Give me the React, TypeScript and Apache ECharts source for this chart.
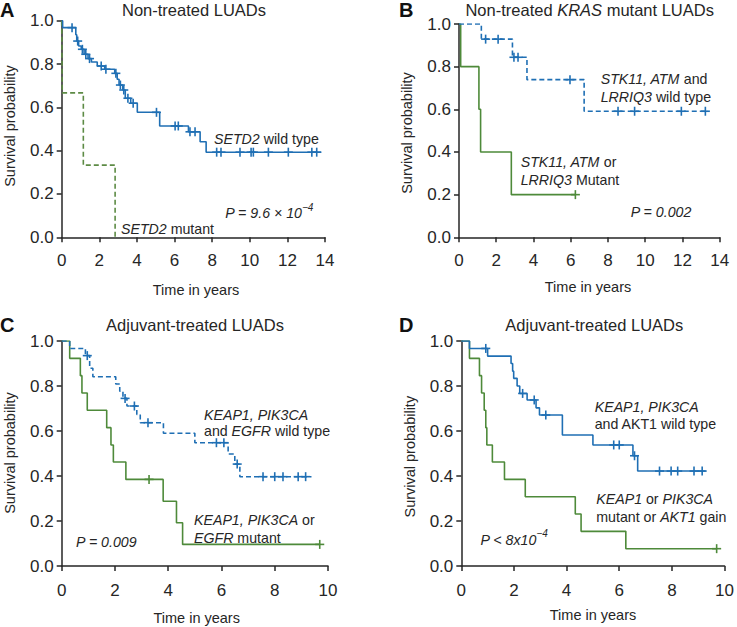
import React, { useEffect, useRef } from 'react';
import * as echarts from 'echarts';

const FONT = '"Liberation Sans", Arial, Helvetica, sans-serif';
const BLUE = '#1f6fb4';
const GREEN = '#4e8a3a';
const OLIVE = '#5d8b45';
const INK = '#262626';

// ---------- Panel A: Non-treated LUADs ----------
const aWildTime = [0, 0.05, 0.75, 0.8, 0.9, 1.04, 1.19, 1.4, 1.58, 1.89, 2.29, 2.82, 2.95, 3.05, 3.25, 3.38, 3.67, 4.02, 5.21, 6.74, 7.36, 7.68, 13.8];
const aWildSurv = [1, 0.968, 0.935, 0.906, 0.883, 0.868, 0.845, 0.825, 0.809, 0.791, 0.776, 0.757, 0.73, 0.703, 0.68, 0.642, 0.619, 0.577, 0.514, 0.487, 0.441, 0.393, 0.393];
const aWildCensor = [0.55, 0.85, 1.1, 1.28, 1.48, 2.1, 2.35, 2.88, 3.12, 3.3, 3.52, 3.8, 5.04, 6.03, 6.2, 6.82, 7.09, 8.24, 8.47, 9.48, 10.07, 10.19, 10.99, 12.05, 13.3, 13.56];
const aMutTime = [0, 0.03, 1.15, 2.84];
const aMutSurv = [1, 0.667, 0.333, 0];
const aMutCensor: number[] = [];

// ---------- Panel B: Non-treated KRAS mutant LUADs ----------
const bWildTime = [0, 1.2, 2.87, 3.65, 6.72, 13.37];
const bWildSurv = [1, 0.929, 0.844, 0.739, 0.591, 0.591];
const bWildCensor = [1.43, 2.1, 2.95, 3.17, 5.96, 8.54, 9.43, 11.94, 13.23];
const bMutTime = [0, 0.09, 1.07, 1.16, 2.81, 6.25];
const bMutSurv = [1, 0.8, 0.6, 0.4, 0.2, 0.2];
const bMutCensor = [6.25];

// ---------- Panel C: Adjuvant-treated LUADs ----------
const cWildTime = [0, 0.3, 0.89, 1.05, 1.17, 2.03, 2.18, 2.3, 2.45, 2.82, 2.95, 3.82, 5.0, 6.25, 6.5, 6.69, 9.38];
const cWildSurv = [1, 0.967, 0.935, 0.879, 0.841, 0.809, 0.777, 0.745, 0.711, 0.674, 0.637, 0.59, 0.548, 0.498, 0.453, 0.397, 0.397];
const cWildCensor = [0.96, 2.38, 2.73, 3.24, 5.81, 6.09, 6.59, 7.56, 8.0, 8.31, 8.88, 9.16];
const cMutTime = [0, 0.3, 0.7, 0.76, 0.96, 1.69, 1.85, 1.94, 2.41, 3.81, 4.31, 4.54, 9.69];
const cMutSurv = [1, 0.923, 0.846, 0.769, 0.692, 0.615, 0.538, 0.462, 0.385, 0.288, 0.192, 0.096, 0.096];
const cMutCensor = [3.28, 9.69];

// ---------- Panel D: Adjuvant-treated LUADs ----------
const dWildTime = [0, 0.31, 1.0, 1.89, 1.95, 1.99, 2.12, 2.22, 2.5, 2.84, 2.97, 3.84, 5.0, 6.52, 6.7, 9.28];
const dWildSurv = [1, 0.967, 0.933, 0.9, 0.866, 0.834, 0.8, 0.767, 0.738, 0.703, 0.671, 0.582, 0.538, 0.49, 0.422, 0.422];
const dWildCensor = [0.93, 2.33, 2.77, 3.21, 5.79, 6.0, 6.58, 7.53, 7.97, 8.22, 8.84, 9.15];
const dMutTime = [0, 0.31, 0.69, 0.77, 0.87, 0.93, 0.97, 1.18, 1.64, 2.43, 4.33, 4.55, 6.25, 9.7];
const dMutSurv = [1, 0.923, 0.846, 0.769, 0.692, 0.615, 0.538, 0.462, 0.385, 0.308, 0.231, 0.154, 0.077, 0.077];
const dMutCensor = [9.7];

const xMaxA = 14;
const xMaxB = 14;
const xMaxC = 10;
const xMaxD = 10;
const yTicks = [0, 0.2, 0.4, 0.6, 0.8, 1.0];

function survAt(times: number[], survs: number[], t: number) {
  let s = survs[0];
  for (let i = 0; i < times.length; i++) if (times[i] <= t + 1e-9) s = survs[i];
  return s;
}

type Curve = { time: number[]; surv: number[]; censor: number[]; color: string; dashed: boolean };

const panels: { grid: any; xMax: number; curves: Curve[]; xLabelMargin: number }[] = [
  {
    grid: { left: 61.7, top: 20.7, width: 263.3, height: 216.6 },
    xMax: xMaxA,
    xLabelMargin: 15,
    curves: [
      { time: aMutTime, surv: aMutSurv, censor: aMutCensor, color: OLIVE, dashed: true },
      { time: aWildTime, surv: aWildSurv, censor: aWildCensor, color: BLUE, dashed: false },
    ],
  },
  {
    grid: { left: 459, top: 24, width: 260.7, height: 213.3 },
    xMax: xMaxB,
    xLabelMargin: 15,
    curves: [
      { time: bMutTime, surv: bMutSurv, censor: bMutCensor, color: GREEN, dashed: false },
      { time: bWildTime, surv: bWildSurv, censor: bWildCensor, color: BLUE, dashed: true },
    ],
  },
  {
    grid: { left: 61.7, top: 341, width: 266.3, height: 225 },
    xMax: xMaxC,
    xLabelMargin: 16,
    curves: [
      { time: cMutTime, surv: cMutSurv, censor: cMutCensor, color: GREEN, dashed: false },
      { time: cWildTime, surv: cWildSurv, censor: cWildCensor, color: BLUE, dashed: true },
    ],
  },
  {
    grid: { left: 461.3, top: 341, width: 267.7, height: 225 },
    xMax: xMaxD,
    xLabelMargin: 16,
    curves: [
      { time: dMutTime, surv: dMutSurv, censor: dMutCensor, color: GREEN, dashed: false },
      { time: dWildTime, surv: dWildSurv, censor: dWildCensor, color: BLUE, dashed: false },
    ],
  },
];

const ANN = 14.2;
const richStyles = (size: number) => ({
  i: { fontStyle: 'italic', fontSize: size, fontFamily: FONT, fill: INK },
  n: { fontStyle: 'normal', fontSize: size, fontFamily: FONT, fill: INK },
  b: { fontStyle: 'normal', fontWeight: 'bold', fontSize: size, fontFamily: FONT, fill: '#111' },
});

function txt(x: number, y: number, text: string, size: number, align: string = 'left', rotation = 0) {
  return {
    type: 'text',
    x,
    y,
    rotation,
    z: 20,
    silent: true,
    style: {
      text,
      rich: richStyles(size),
      fontSize: size,
      fontFamily: FONT,
      fill: INK,
      textAlign: align,
      align,
      textVerticalAlign: 'middle',
      verticalAlign: 'middle',
    },
  };
}

const graphics = [
  // panel letters
  txt(0, 10, '{b|A}', 20),
  txt(399, 10, '{b|B}', 20),
  txt(0, 325, '{b|C}', 20),
  txt(399, 325, '{b|D}', 20),
  // titles
  txt(194, 9.5, '{n|Non-treated LUADs}', 16.5, 'center'),
  txt(589.7, 10, '{n|Non-treated }{i|KRAS}{n| mutant LUADs}', 16.5, 'center'),
  txt(195, 325, '{n|Adjuvant-treated LUADs}', 16.5, 'center'),
  txt(594.3, 325, '{n|Adjuvant-treated LUADs}', 16.5, 'center'),
  // y axis names
  txt(10, 126, '{n|Survival probability}', 14.5, 'center', Math.PI / 2),
  txt(407.3, 133, '{n|Survival probability}', 14.5, 'center', Math.PI / 2),
  txt(10, 453, '{n|Survival probability}', 14.5, 'center', Math.PI / 2),
  txt(409.7, 456.7, '{n|Survival probability}', 14.5, 'center', Math.PI / 2),
  // x axis names
  txt(196, 290, '{n|Time in years}', 14.5, 'center'),
  txt(588, 286.7, '{n|Time in years}', 14.5, 'center'),
  txt(196.7, 618, '{n|Time in years}', 14.5, 'center'),
  txt(593, 615, '{n|Time in years}', 14.5, 'center'),
  // panel A annotations
  txt(214, 139, '{i|SETD2}{n| wild type}', ANN),
  txt(302, 213, '{i|P = 9.6 × 10}', ANN, 'right'),
  txt(302, 207, '{i|−4}', 10, 'left'),
  txt(121, 229, '{i|SETD2}{n| mutant}', ANN),
  // panel B annotations
  txt(600.7, 79.3, '{i|STK11, ATM}{n| and}', ANN),
  txt(600.7, 97.3, '{i|LRRIQ3}{n| wild type}', ANN),
  txt(520.7, 162.3, '{i|STK11, ATM}{n| or}', ANN),
  txt(520.7, 180, '{i|LRRIQ3}{n| Mutant}', ANN),
  txt(630.7, 211.7, '{i|P = 0.002}', ANN),
  // panel C annotations
  txt(204, 415, '{i|KEAP1, PIK3CA}', ANN),
  txt(204, 431, '{n|and }{i|EGFR}{n| wild type}', ANN),
  txt(194, 520, '{i|KEAP1, PIK3CA}{n| or}', ANN),
  txt(194, 537.7, '{i|EGFR}{n| mutant}', ANN),
  txt(76, 541.7, '{i|P = 0.009}', ANN),
  // panel D annotations
  txt(594.7, 406.7, '{i|KEAP1, PIK3CA}', ANN),
  txt(594.7, 424.3, '{n|and AKT1 wild type}', ANN),
  txt(596.3, 499.3, '{i|KEAP1}{n| or }{i|PIK3CA}', ANN),
  txt(596.3, 516.7, '{n|mutant or }{i|AKT1}{n| gain}', ANN),
  txt(536.3, 540, '{i|P < 8x10}', ANN, 'right'),
  txt(536.3, 533.5, '{i|−4}', 10, 'left'),
];

export default function App() {
  const ref = useRef<HTMLDivElement>(null);
  useEffect(() => {
    document.body.style.margin = '0';
    if (!ref.current) return;
    const chart = echarts.init(ref.current, undefined, { renderer: 'svg' });

    const grid: any[] = [];
    const xAxis: any[] = [];
    const yAxis: any[] = [];
    const series: any[] = [];

    panels.forEach((p, k) => {
      grid.push({ ...p.grid, containLabel: false });
      xAxis.push({
        gridIndex: k,
        type: 'value',
        min: 0,
        max: p.xMax,
        interval: 2,
        axisLine: { show: true, onZero: false, lineStyle: { color: INK, width: 1.5 } },
        axisTick: { show: true, length: 5, lineStyle: { color: INK, width: 1.5 } },
        axisLabel: { fontSize: 17, color: INK, fontFamily: FONT, margin: p.xLabelMargin },
        splitLine: { show: false },
      });
      yAxis.push({
        gridIndex: k,
        type: 'value',
        min: yTicks[0],
        max: yTicks[yTicks.length - 1],
        interval: 0.2,
        axisLine: { show: true, onZero: false, lineStyle: { color: INK, width: 1.5 } },
        axisTick: { show: true, length: 5, lineStyle: { color: INK, width: 1.5 } },
        axisLabel: {
          fontSize: 17,
          color: INK,
          fontFamily: FONT,
          margin: 8,
          formatter: (v: number) => v.toFixed(1),
        },
        splitLine: { show: false },
      });
      p.curves.forEach((c) => {
        series.push({
          type: 'line',
          xAxisIndex: k,
          yAxisIndex: k,
          step: 'end',
          symbol: 'none',
          silent: true,
          z: 3,
          data: c.time.map((t, i) => [t, c.surv[i]]),
          lineStyle: { color: c.color, width: 1.6, type: c.dashed ? [5, 3] : 'solid' },
        });
        if (c.censor.length) {
          series.push({
            type: 'custom',
            xAxisIndex: k,
            yAxisIndex: k,
            silent: true,
            z: 4,
            data: c.censor.map((t) => [t, survAt(c.time, c.surv, t)]),
            renderItem: (_params: any, api: any) => {
              const pt = api.coord([api.value(0), api.value(1)]);
              const h = 4.5;
              const st = { stroke: c.color, lineWidth: 1.6, fill: 'none' };
              return {
                type: 'group',
                children: [
                  { type: 'line', shape: { x1: pt[0] - h, y1: pt[1], x2: pt[0] + h, y2: pt[1] }, style: st },
                  { type: 'line', shape: { x1: pt[0], y1: pt[1] - h, x2: pt[0], y2: pt[1] + h }, style: st },
                ],
              };
            },
          });
        }
      });
    });

    chart.setOption({
      animation: false,
      backgroundColor: '#ffffff',
      grid,
      xAxis,
      yAxis,
      series,
      graphic: { elements: graphics },
    });
    return () => chart.dispose();
  }, []);
  return <div ref={ref} style={{ width: 737, height: 627 }} />;
}
